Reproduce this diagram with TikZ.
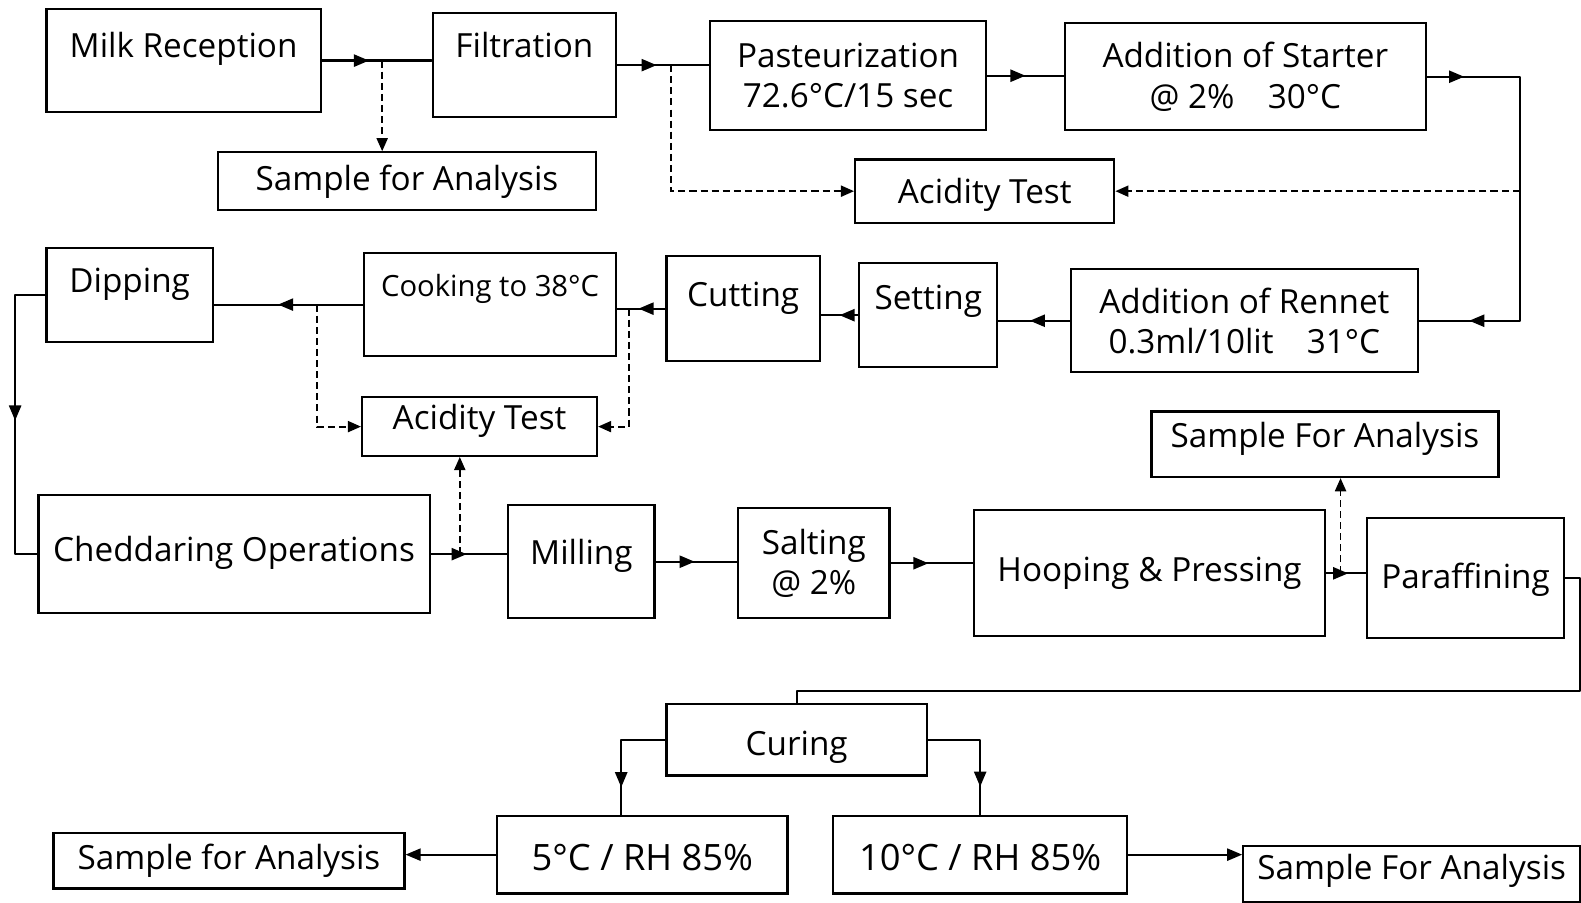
\documentclass[tikz,border=0pt]{standalone}
\usepackage{fontspec}
\setmainfont{Open Sans}
\usetikzlibrary{arrows.meta,calc,decorations.markings}

\tikzset{flowtip/.tip={Triangle[length=15pt,width=12pt]}}

\begin{document}
\begin{tikzpicture}[x=1pt, y=-1pt,
    stage/.style={draw, line width=2.2pt, anchor=north west, inner xsep=0pt, inner ysep=0pt,
      font=\fontsize{33}{40}\selectfont},
    flow/.style={line width=2.2pt, line cap=round, line join=round},
    midarrow/.style={postaction={decorate, decoration={markings,
      mark=at position #1 with {\arrow{flowtip}}}}},
    midarrow/.default=0.5,
    outarrow/.style={flow, -flowtip},
    test/.style={dash pattern=on 7pt off 4pt, line width=1.8pt, -{Triangle[length=13pt,width=11pt]}}]
  \useasboundingbox (0,0) rectangle (1568,895);

  % Row one: reception to starter
  \node[stage, minimum width=272pt, text height=48pt, text depth=54pt] (milk) at (45,8) {Milk Reception};
  \node[stage, minimum width=182pt, text height=44pt, text depth=59pt] (filt) at (428,12) {Filtration};
  \node[stage, minimum width=274pt, minimum height=108pt, align=center] (past) at (703,20) {Pasteurization\\72.6°C/15 sec};
  \node[stage, minimum width=358pt, minimum height=106pt, align=center] (start) at (1055,22) {Addition of Starter\\@ 2\%\quad 30°C};
  \node[stage, minimum width=375pt, text height=38pt, text depth=19pt] (samplea) at (215,150) {Sample for Analysis};
  \node[stage, minimum width=257pt, text height=44pt, text depth=19pt] (acida) at (847,157) {Acidity Test};

  % Row two: rennet back to dipping
  \node[stage, minimum width=165pt, text height=44pt, text depth=49pt] (dip) at (45,245) {Dipping};
  \node[stage, minimum width=250pt, text height=43pt, text depth=59pt, font=\fontsize{29}{32}\selectfont] (cook) at (360,250) {Cooking to 38°C};
  \node[stage, minimum width=152pt, text height=50pt, text depth=54pt] (cut) at (660,253) {Cutting};
  \node[stage, minimum width=137pt, text height=46pt, text depth=57pt] (sett) at (851,260) {Setting};
  \node[stage, minimum width=344pt, minimum height=102pt, align=center] (rennet) at (1061,266) {Addition of Rennet\\0.3ml/10lit\quad 31°C};
  \node[stage, minimum width=233pt, text height=32pt, text depth=26pt] (acidb) at (358,393) {Acidity Test};
  \node[stage, minimum width=344pt, text height=36pt, text depth=29pt] (sampleb) at (1141,407) {Sample For Analysis};

  % Row three: cheddaring to paraffining
  \node[stage, minimum width=388pt, text height=66pt, text depth=51pt] (ched) at (37,490) {Cheddaring Operations};
  \node[stage, minimum width=145pt, text height=59pt, text depth=53pt] (mill) at (503,500) {Milling};
  \node[stage, minimum width=150pt, minimum height=109pt, align=center] (salt) at (731,503) {Salting\\@ 2\%};
  \node[stage, minimum width=348pt, text height=71pt, text depth=54pt] (hoop) at (965,505) {Hooping \& Pressing};
  \node[stage, minimum width=195pt, text height=70pt, text depth=49pt] (par) at (1355,513) {Paraffining};

  % Row four: curing
  \node[stage, minimum width=258pt, text height=51pt, text depth=20pt] (cure) at (660,697) {Curing};
  \node[stage, minimum width=288pt, text height=54pt, text depth=23pt, font=\fontsize{36}{40}\selectfont] (five) at (492,808) {5°C / RH 85\%};
  \node[stage, minimum width=292pt, text height=54pt, text depth=23pt, font=\fontsize{36}{40}\selectfont] (ten) at (825,808) {10°C / RH 85\%};
  \node[stage, minimum width=348pt, text height=36pt, text depth=19pt] (samplec) at (52,825) {Sample for Analysis};
  \node[stage, minimum width=334pt, text height=33pt, text depth=23pt] (sampled) at (1232,838) {Sample For Analysis};

  % Flow, row one
  \draw[flow, midarrow=0.43] (milk.east) -- (milk.east -| filt.west);
  \coordinate (ms) at ($(milk.east)!0.55!(milk.east -| filt.west)$);
  \draw[test] (ms) -- (ms |- samplea.north);
  \draw[flow, midarrow=0.43] (filt.east) -- (filt.east -| past.west);
  \coordinate (fs) at ($(filt.east)!0.59!(filt.east -| past.west)$);
  \draw[test] (fs) |- (acida.west);
  \draw[flow, midarrow] (past.east) -- (past.east -| start.west);
  \coordinate (rt) at ($(start.east)+(92,0)$);
  \draw[flow, midarrow=0.085, midarrow=0.885] (start.east) -- (rt) -- (rt |- rennet.east) -- (rennet.east);
  \draw[test] (rt |- acida.east) -- (acida.east);

  % Flow, row two
  \draw[flow, midarrow=0.56] (rennet.west) -- (rennet.west -| sett.east);
  \draw[flow, midarrow] (sett.west) -- (sett.west -| cut.east);
  \draw[flow, midarrow=0.56] (cut.west) -- (cut.west -| cook.east);
  \coordinate (cc) at ($(cut.west)!0.76!(cut.west -| cook.east)$);
  \draw[test] (cc) |- (acidb.east);
  \draw[flow, midarrow=0.57] (cook.west) -- (cook.west -| dip.east);
  \coordinate (cd) at ($(cook.west)!0.31!(cook.west -| dip.east)$);
  \draw[test] (cd) |- (acidb.west);

  % Dipping down to cheddaring
  \coordinate (dl) at ($(dip.west)+(-30,0)$);
  \draw[flow, midarrow] (dip.west) -- (dl) -- (dl |- ched.west) -- (ched.west);

  % Flow, row three
  \draw[flow, midarrow=0.47] (ched.east) -- (ched.east -| mill.west);
  \coordinate (cm) at ($(ched.east)!0.38!(ched.east -| mill.west)$);
  \draw[test] (cm) -- (cm |- acidb.south);
  \draw[flow, midarrow=0.48] (mill.east) -- (mill.east -| salt.west);
  \draw[flow, midarrow=0.46] (salt.east) -- (salt.east -| hoop.west);
  \draw[flow, midarrow=0.55] (hoop.east) -- (hoop.east -| par.west);
  \coordinate (hp) at ($(hoop.east)!0.36!(hoop.east -| par.west)$);
  \draw[test] (hp) -- (hp |- sampleb.south);

  % Paraffining round to curing
  \coordinate (pr) at ($(par.east)+(15,0)$);
  \coordinate (cl) at ($(cure.north)+(0,-12)$);
  \draw[flow] (par.east) -- (pr) |- (cl) -- (cure.north);
  \draw[flow, midarrow=0.77] (cure.west) -| ([xshift=-21pt]five.north);
  \draw[flow, midarrow=0.78] (cure.east) -| (ten.north);
  \draw[outarrow] (five.west) -- (five.west -| samplec.east);
  \draw[outarrow] (ten.east) -- (ten.east -| sampled.west);
\end{tikzpicture}
\end{document}
